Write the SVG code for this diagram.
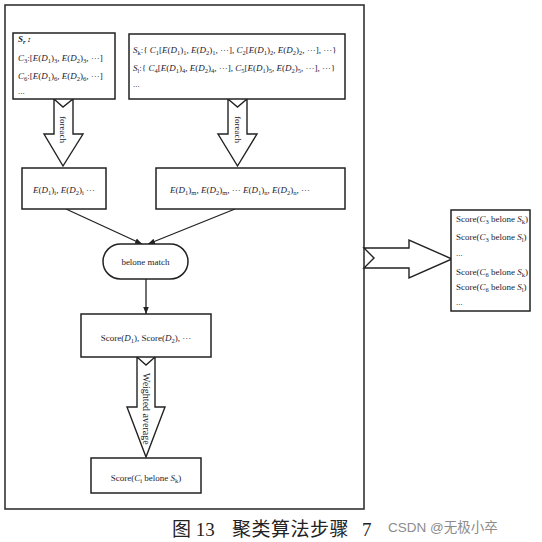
<svg xmlns="http://www.w3.org/2000/svg" width="542" height="542" viewBox="0 0 542 542">
<style>
.bx{fill:#fff;stroke:#222;stroke-width:1.5}
.ln{fill:none;stroke:#222;stroke-width:1.3}
.ar{fill:#fff;stroke:#222;stroke-width:1.4;stroke-linejoin:miter}
.t{font-family:"Liberation Serif","Times New Roman",serif;font-size:9px;fill:#1c1c2e}
.i{font-style:italic}
.s{font-size:6.5px}
.cap{font-family:"Liberation Serif","Noto Sans CJK SC",serif;font-size:19px;fill:#222}
.wm{font-family:"Liberation Sans","Noto Sans CJK SC",sans-serif;font-size:13.5px;fill:#8c8c8c}
</style>
<defs>
<marker id="ah" viewBox="0 0 10 10" refX="10" refY="5" markerWidth="7" markerHeight="7" orient="auto" markerUnits="userSpaceOnUse"><path d="M0,1 L10,5 L0,9 Z" fill="#222"/></marker>
</defs>
<rect x="0" y="0" width="542" height="542" fill="#fff"/>
<rect id="frame" x="5" y="5" width="359" height="504" fill="none" stroke="#333" stroke-width="1.6"/>

<g id="connectors">
<line class="ln" x1="66" y1="209" x2="142" y2="244" marker-end="url(#ah)"/>
<line class="ln" x1="235" y1="209" x2="148" y2="244" marker-end="url(#ah)"/>
<line class="ln" x1="146" y1="279" x2="146" y2="314" marker-end="url(#ah)"/>
<g id="arrow-foreach-left">
<polygon class="ar" points="54,99 63,107 73,99 73,134 83,134 63,166 44,134 54,134"/>
<text class="t" transform="translate(60,116) rotate(90)">foreach</text>
</g>
<g id="arrow-foreach-right">
<polygon class="ar" points="228,99 237.5,107 247,99 247,134 257,134 237.5,166 218,134 228,134"/>
<text class="t" transform="translate(234.5,116) rotate(90)">foreach</text>
</g>
<g id="arrow-weighted">
<polygon class="ar" points="137,357 146,365 155,357 155,407 165,407 146,457 127,407 137,407"/>
<text class="t" style="font-size:10px" transform="translate(142.5,373) rotate(90)">Weighted average</text>
</g>
<g id="arrow-right">
<polygon class="ar" points="364,248 409,248 409,240 452,259 409,278 409,268 364,268 374,258"/>
</g>
</g>

<g id="node-sr">
<rect class="bx" x="13" y="33" width="102" height="66"/>
<text class="t i" x="18" y="42" font-weight="bold">S<tspan class="s" dy="2">r</tspan><tspan dy="-2"> :</tspan></text>
<text class="t" x="18" y="61"><tspan class="i">C</tspan><tspan class="s" dy="2">3</tspan><tspan dy="-2">:[</tspan><tspan class="i">E</tspan>(<tspan class="i">D</tspan><tspan class="s" dy="2">1</tspan><tspan dy="-2">)</tspan><tspan class="s" dy="2">3</tspan><tspan dy="-2">, </tspan><tspan class="i">E</tspan>(<tspan class="i">D</tspan><tspan class="s" dy="2">2</tspan><tspan dy="-2">)</tspan><tspan class="s" dy="2">3</tspan><tspan dy="-2">, ···]</tspan></text>
<text class="t" x="18" y="79"><tspan class="i">C</tspan><tspan class="s" dy="2">6</tspan><tspan dy="-2">:[</tspan><tspan class="i">E</tspan>(<tspan class="i">D</tspan><tspan class="s" dy="2">1</tspan><tspan dy="-2">)</tspan><tspan class="s" dy="2">6</tspan><tspan dy="-2">, </tspan><tspan class="i">E</tspan>(<tspan class="i">D</tspan><tspan class="s" dy="2">2</tspan><tspan dy="-2">)</tspan><tspan class="s" dy="2">6</tspan><tspan dy="-2">, ···]</tspan></text>
<text class="t" x="18" y="94">...</text>
</g>

<g id="node-sk">
<rect class="bx" x="129" y="34" width="216" height="65"/>
<text class="t" x="133" y="53"><tspan class="i">S</tspan><tspan class="s" dy="2">k</tspan><tspan dy="-2">:{ </tspan><tspan class="i">C</tspan><tspan class="s" dy="2">1</tspan><tspan dy="-2">[</tspan><tspan class="i">E</tspan>(<tspan class="i">D</tspan><tspan class="s" dy="2">1</tspan><tspan dy="-2">)</tspan><tspan class="s" dy="2">1</tspan><tspan dy="-2">, </tspan><tspan class="i">E</tspan>(<tspan class="i">D</tspan><tspan class="s" dy="2">2</tspan><tspan dy="-2">)</tspan><tspan class="s" dy="2">1</tspan><tspan dy="-2">, ···], </tspan><tspan class="i">C</tspan><tspan class="s" dy="2">2</tspan><tspan dy="-2">[</tspan><tspan class="i">E</tspan>(<tspan class="i">D</tspan><tspan class="s" dy="2">1</tspan><tspan dy="-2">)</tspan><tspan class="s" dy="2">2</tspan><tspan dy="-2">, </tspan><tspan class="i">E</tspan>(<tspan class="i">D</tspan><tspan class="s" dy="2">2</tspan><tspan dy="-2">)</tspan><tspan class="s" dy="2">2</tspan><tspan dy="-2">, ···], ···}</tspan></text>
<text class="t" x="133" y="71"><tspan class="i">S</tspan><tspan class="s" dy="2">l</tspan><tspan dy="-2">:{ </tspan><tspan class="i">C</tspan><tspan class="s" dy="2">4</tspan><tspan dy="-2">[</tspan><tspan class="i">E</tspan>(<tspan class="i">D</tspan><tspan class="s" dy="2">1</tspan><tspan dy="-2">)</tspan><tspan class="s" dy="2">4</tspan><tspan dy="-2">, </tspan><tspan class="i">E</tspan>(<tspan class="i">D</tspan><tspan class="s" dy="2">2</tspan><tspan dy="-2">)</tspan><tspan class="s" dy="2">4</tspan><tspan dy="-2">, ···], </tspan><tspan class="i">C</tspan><tspan class="s" dy="2">5</tspan><tspan dy="-2">[</tspan><tspan class="i">E</tspan>(<tspan class="i">D</tspan><tspan class="s" dy="2">1</tspan><tspan dy="-2">)</tspan><tspan class="s" dy="2">5</tspan><tspan dy="-2">, </tspan><tspan class="i">E</tspan>(<tspan class="i">D</tspan><tspan class="s" dy="2">2</tspan><tspan dy="-2">)</tspan><tspan class="s" dy="2">5</tspan><tspan dy="-2">, ···], ···}</tspan></text>
<text class="t" x="133" y="87">...</text>
</g>

<g id="node-e-left">
<rect class="bx" x="22" y="168" width="84" height="41"/>
<text class="t" x="64" y="193" text-anchor="middle"><tspan class="i">E</tspan>(<tspan class="i">D</tspan><tspan class="s" dy="2">1</tspan><tspan dy="-2">)</tspan><tspan class="s" dy="2">i</tspan><tspan dy="-2">, </tspan><tspan class="i">E</tspan>(<tspan class="i">D</tspan><tspan class="s" dy="2">2</tspan><tspan dy="-2">)</tspan><tspan class="s" dy="2">i</tspan><tspan dy="-2"> ···</tspan></text>
</g>

<g id="node-e-right">
<rect class="bx" x="156" y="168" width="189" height="41"/>
<text class="t" x="240" y="193" text-anchor="middle"><tspan class="i">E</tspan>(<tspan class="i">D</tspan><tspan class="s" dy="2">1</tspan><tspan dy="-2">)</tspan><tspan class="s" dy="2">m</tspan><tspan dy="-2">, </tspan><tspan class="i">E</tspan>(<tspan class="i">D</tspan><tspan class="s" dy="2">2</tspan><tspan dy="-2">)</tspan><tspan class="s" dy="2">m</tspan><tspan dy="-2">, ··· </tspan><tspan class="i">E</tspan>(<tspan class="i">D</tspan><tspan class="s" dy="2">1</tspan><tspan dy="-2">)</tspan><tspan class="s" dy="2">n</tspan><tspan dy="-2">, </tspan><tspan class="i">E</tspan>(<tspan class="i">D</tspan><tspan class="s" dy="2">2</tspan><tspan dy="-2">)</tspan><tspan class="s" dy="2">n</tspan><tspan dy="-2">, ···</tspan></text>
</g>

<g id="node-match">
<rect class="bx" x="103" y="244" width="85" height="35" rx="17.5" ry="17.5"/>
<text class="t" x="145.5" y="265" text-anchor="middle">belone match</text>
</g>

<g id="node-score">
<rect class="bx" x="81" y="314" width="130" height="43"/>
<text class="t" x="146" y="341" text-anchor="middle">Score(<tspan class="i">D</tspan><tspan class="s" dy="2">1</tspan><tspan dy="-2">), Score(</tspan><tspan class="i">D</tspan><tspan class="s" dy="2">2</tspan><tspan dy="-2">), ···</tspan></text>
</g>

<g id="node-score-ci">
<rect class="bx" x="91" y="458" width="110" height="35"/>
<text class="t" x="146" y="481" text-anchor="middle">Score(<tspan class="i">C</tspan><tspan class="s" dy="2">i</tspan><tspan dy="-2"> belone </tspan><tspan class="i">S</tspan><tspan class="s" dy="2">k</tspan><tspan dy="-2">)</tspan></text>
</g>

<g id="node-results">
<rect class="bx" x="451" y="210" width="79" height="101"/>
<text class="t" x="456" y="222">Score(<tspan class="i">C</tspan><tspan class="s" dy="2">3</tspan><tspan dy="-2"> belone </tspan><tspan class="i">S</tspan><tspan class="s" dy="2">k</tspan><tspan dy="-2">)</tspan></text>
<text class="t" x="456" y="240">Score(<tspan class="i">C</tspan><tspan class="s" dy="2">3</tspan><tspan dy="-2"> belone </tspan><tspan class="i">S</tspan><tspan class="s" dy="2">l</tspan><tspan dy="-2">)</tspan></text>
<text class="t" x="456" y="256">...</text>
<text class="t" x="456" y="275">Score(<tspan class="i">C</tspan><tspan class="s" dy="2">6</tspan><tspan dy="-2"> belone </tspan><tspan class="i">S</tspan><tspan class="s" dy="2">k</tspan><tspan dy="-2">)</tspan></text>
<text class="t" x="456" y="290">Score(<tspan class="i">C</tspan><tspan class="s" dy="2">6</tspan><tspan dy="-2"> belone </tspan><tspan class="i">S</tspan><tspan class="s" dy="2">l</tspan><tspan dy="-2">)</tspan></text>
<text class="t" x="456" y="305">...</text>
</g>

<text class="cap" x="172" y="536">图 13</text>
<text class="cap" x="232" y="536" letter-spacing="0.5">聚类算法步骤</text>
<text class="cap" x="362" y="536">7</text>
<text class="wm" x="388" y="532">CSDN @无极小卒</text>
</svg>
